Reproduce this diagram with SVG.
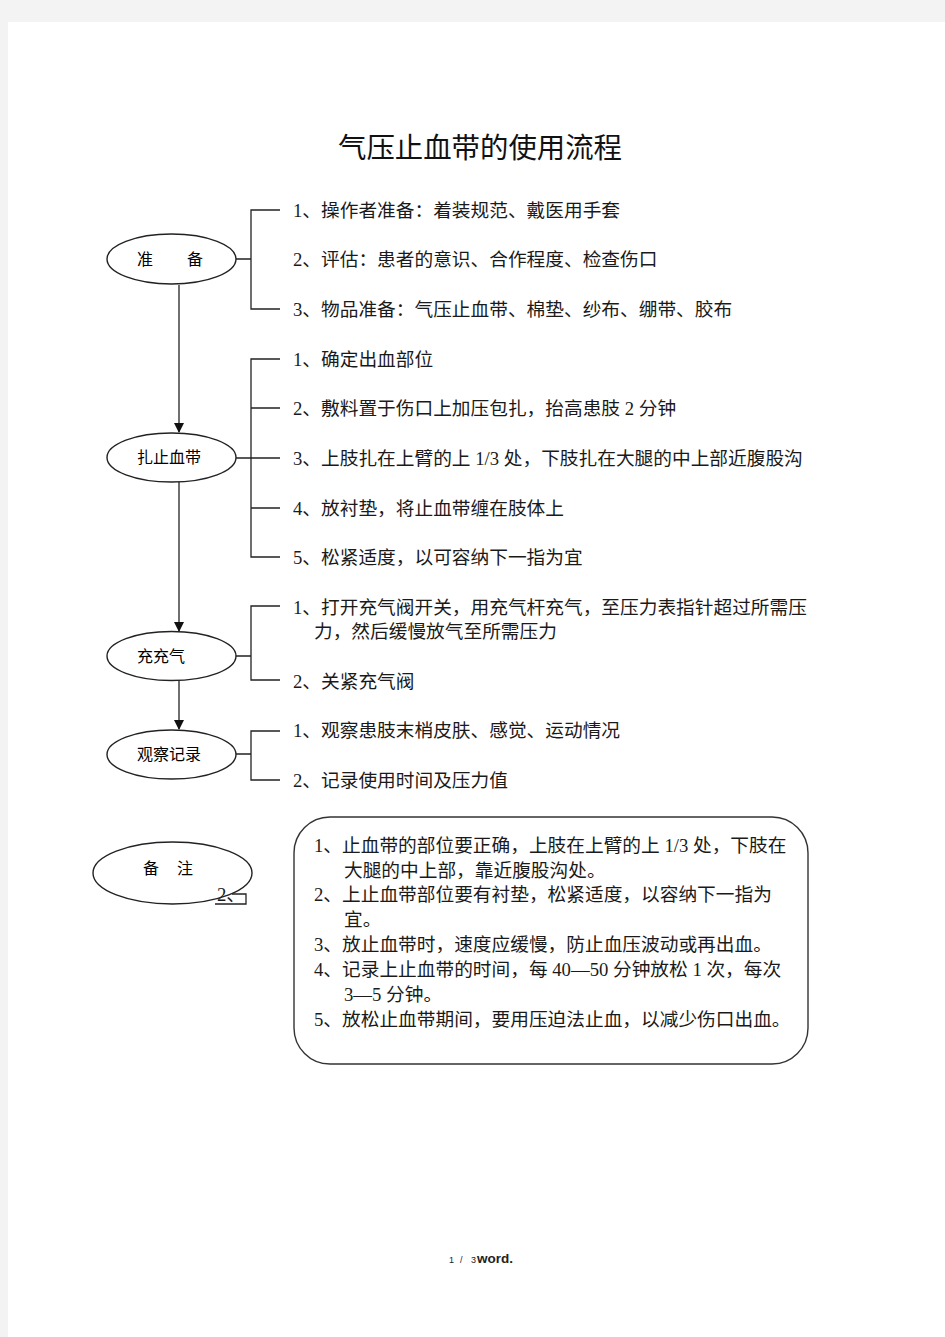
<svg xmlns="http://www.w3.org/2000/svg" width="945" height="1337" viewBox="0 0 945 1337">
<defs>
<style>
.t{font-family:"Liberation Serif","Noto Sans CJK SC",serif;font-size:18.7px;fill:#1a1a1a}
.n{font-family:"Liberation Serif","Noto Sans CJK SC",serif;font-size:16px;fill:#000}
.ln{stroke:#222;stroke-width:1.3;fill:none}
.el{stroke:#222;stroke-width:1.4;fill:#fff}
.f{font-family:"Liberation Sans",sans-serif;fill:#222}
</style>
<marker id="ah" markerWidth="10" markerHeight="12" refX="9" refY="5" orient="auto" markerUnits="userSpaceOnUse">
<path d="M0,0 L10,5 L0,10 Z" fill="#111"/>
</marker>
</defs>
<rect x="0" y="0" width="945" height="1337" fill="#f3f3f3"/>
<rect x="8" y="22" width="937" height="1315" fill="#fff"/>
<text x="480" y="158" text-anchor="middle" style="font-family:'Liberation Serif','Noto Sans CJK SC',serif;font-size:28.4px;fill:#111">气压止血带的使用流程</text>

<g id="connectors">
<line class="ln" x1="179" y1="285" x2="179" y2="432" marker-end="url(#ah)"/>
<line class="ln" x1="179" y1="482" x2="179" y2="631" marker-end="url(#ah)"/>
<line class="ln" x1="179" y1="680" x2="179" y2="729" marker-end="url(#ah)"/>
<path class="ln" d="M236,259 H251 M280,210 H251 V309 H280"/>
<path class="ln" d="M236,458 H280 M280,359 H251 V557 H280 M251,408 H280 M251,508 H280"/>
<path class="ln" d="M236,656 H251 M280,606 H251 V680 H280"/>
<path class="ln" d="M236,754 H251 M280,731 H251 V780 H280"/>
</g>

<g id="node-prep">
<ellipse class="el" cx="171.5" cy="259" rx="64.5" ry="25"/>
<text class="n" x="137" y="265">准</text>
<text class="n" x="187" y="265">备</text>
</g>
<g id="node-tie">
<ellipse class="el" cx="171.5" cy="457.5" rx="64.5" ry="24.5"/>
<text class="n" x="169" y="463" text-anchor="middle">扎止血带</text>
</g>
<g id="node-inflate">
<ellipse class="el" cx="171.5" cy="656" rx="64.5" ry="24.5"/>
<text class="n" x="137" y="662">充充气</text>
</g>
<g id="node-observe">
<ellipse class="el" cx="171.5" cy="754.5" rx="64.5" ry="24.5"/>
<text class="n" x="169" y="760" text-anchor="middle">观察记录</text>
</g>

<g id="items-prep">
<text class="t" x="293" y="217">1、操作者准备：着装规范、戴医用手套</text>
<text class="t" x="293" y="266">2、评估：患者的意识、合作程度、检查伤口</text>
<text class="t" x="293" y="316">3、物品准备：气压止血带、棉垫、纱布、绷带、胶布</text>
</g>
<g id="items-tie">
<text class="t" x="293" y="366">1、确定出血部位</text>
<text class="t" x="293" y="415">2、敷料置于伤口上加压包扎，抬高患肢 2 分钟</text>
<text class="t" x="293" y="465">3、上肢扎在上臂的上 1/3 处，下肢扎在大腿的中上部近腹股沟</text>
<text class="t" x="293" y="515">4、放衬垫，将止血带缠在肢体上</text>
<text class="t" x="293" y="564">5、松紧适度，以可容纳下一指为宜</text>
</g>
<g id="items-inflate">
<text class="t" x="293" y="614">1、打开充气阀开关，用充气杆充气，至压力表指针超过所需压</text>
<text class="t" x="314" y="638">力，然后缓慢放气至所需压力</text>
<text class="t" x="293" y="688">2、关紧充气阀</text>
</g>
<g id="items-observe">
<text class="t" x="293" y="737">1、观察患肢末梢皮肤、感觉、运动情况</text>
<text class="t" x="293" y="787">2、记录使用时间及压力值</text>
</g>

<g id="node-notes">
<ellipse class="el" cx="172.5" cy="873" rx="79.5" ry="31"/>
<text class="n" x="143" y="874">备</text>
<text class="n" x="177" y="874">注</text>
<path class="ln" d="M215,904 H246 V894 H232"/>
<text class="t" x="217" y="901">2、</text>
</g>

<g id="notes-box">
<rect x="294" y="817" width="514" height="247" rx="36" ry="36" fill="#fff" stroke="#333" stroke-width="1.4"/>
<text class="t" x="314" y="852">1、止血带的部位要正确，上肢在上臂的上 1/3 处，下肢在</text>
<text class="t" x="344" y="877">大腿的中上部，靠近腹股沟处。</text>
<text class="t" x="314" y="901">2、上止血带部位要有衬垫，松紧适度，以容纳下一指为</text>
<text class="t" x="344" y="926">宜。</text>
<text class="t" x="314" y="951">3、放止血带时，速度应缓慢，防止血压波动或再出血。</text>
<text class="t" x="314" y="976">4、记录上止血带的时间，每 40—50 分钟放松 1 次，每次</text>
<text class="t" x="344" y="1001">3—5 分钟。</text>
<text class="t" x="314" y="1026">5、放松止血带期间，要用压迫法止血，以减少伤口出血。</text>
</g>

<g id="footer">
<text class="f" x="449" y="1263" font-size="9">1</text>
<text class="f" x="460" y="1263" font-size="9">/</text>
<text class="f" x="471" y="1263" font-size="9">3</text>
<text class="f" x="477" y="1263" font-size="13.5" font-weight="bold">word.</text>
</g>
</svg>
